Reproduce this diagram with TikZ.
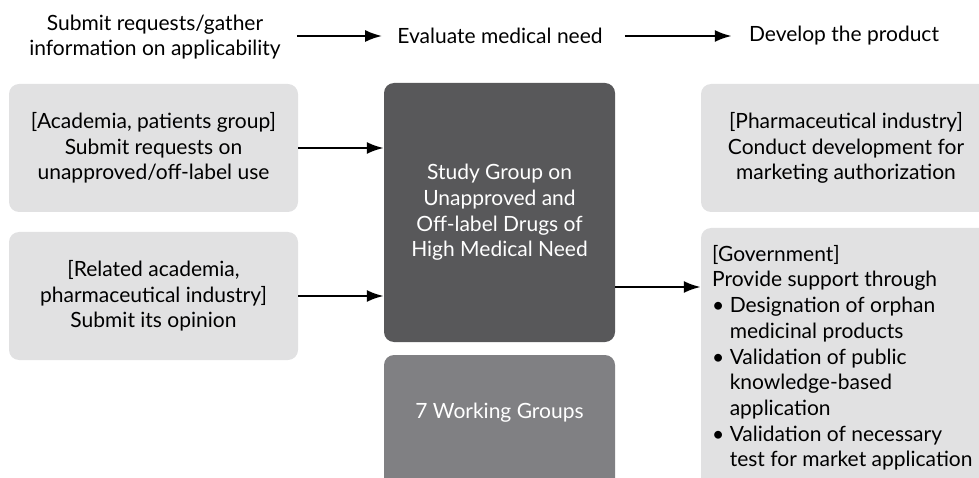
\documentclass[tikz,border=0pt]{standalone}
\usepackage{fontspec}
\setmainfont{Lato}
\usetikzlibrary{arrows.meta}

\definecolor{boxgray}{HTML}{E1E1E2}
\definecolor{studygray}{HTML}{58585A}
\definecolor{wggray}{HTML}{808083}

\begin{document}
\begin{tikzpicture}[x=1pt, y=-1pt,
		txt/.style={align=center, inner sep=0pt, font=\fontsize{21}{25.7}\selectfont},
		box/.style={txt, fill=boxgray, rounded corners=10pt},
		flow/.style={line width=2.4pt, -{Latex[length=17pt,width=12pt]}}]
		\clip (0,0) rectangle (979,478);
		
		% top row
		\node[txt] (ask) at (155,37) {Submit requests/gather\\information on applicability};
		\node[txt] (eval) at (500,36) {Evaluate medical need};
		\node[txt] (dev) at (844,36) {Develop the product};
		\draw[flow] ([xshift=16pt]ask.east |- eval.west) -- ([xshift=-15pt]eval.west);
		\draw[flow] ([xshift=22pt]eval.east) -- ([xshift=-17pt]dev.west);
		
		% left column
		\node[box, minimum width=289pt, minimum height=128pt] (acad) at (153.5,148) {[Academia, patients group]\\Submit requests on\\unapproved/off-label use};
		\node[box, minimum width=289pt, minimum height=128pt] (rel) at (153.5,296) {[Related academia,\\pharmaceutical industry]\\Submit its opinion};
		
		% middle column
		\node[box, fill=studygray, text=white, minimum width=231pt, minimum height=259pt] (study) at (499.5,212.5) {Study Group on\\Unapproved and\\Off-label Drugs of\\High Medical Need};
		\node[box, fill=wggray, minimum width=231pt, minimum height=150pt] (wg) at (499.5,430) {};
		\node[txt, text=white] (wgtext) at (499.5,413) {7 Working Groups};
		
		% right column
		\node[box, minimum width=290pt, minimum height=128pt] (pharma) at (846,148) {[Pharmaceutical industry]\\Conduct development for\\marketing authorization};
		\node[box, minimum width=290pt, minimum height=270pt] (gov) at (846,363) {};
		\node[txt, align=left, anchor=north west] (govtext) at (712,245) {[Government]\\Provide support through\\\textbullet\ Designation of orphan\\\hphantom{\textbullet\ }medicinal products\\\textbullet\ Validation of public\\\hphantom{\textbullet\ }knowledge-based\\\hphantom{\textbullet\ }application\\\textbullet\ Validation of necessary\\\hphantom{\textbullet\ }test for market application};
		
		\draw[flow] (acad.east) -- (acad.east -| study.west);
		\draw[flow] (rel.east) -- (rel.east -| study.west);
		\draw[flow] (study.east |- 0,287) -- (gov.west |- 0,287);
		
	\end{tikzpicture}
\end{document}
